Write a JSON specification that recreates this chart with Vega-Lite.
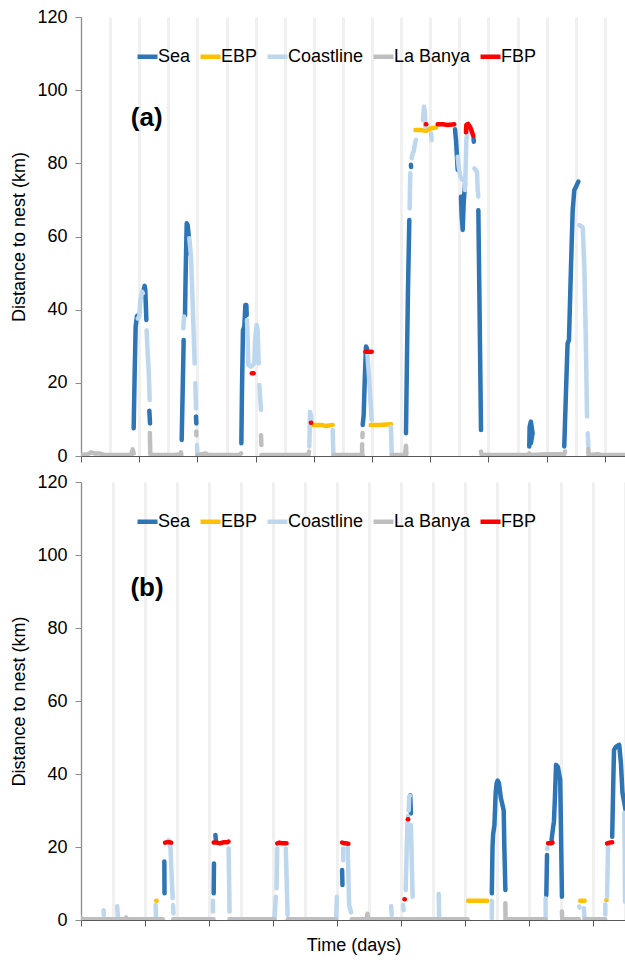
{
  "$schema": "https://vega.github.io/schema/vega-lite/v6.json",
  "padding": {"left": 10, "top": 8, "right": 0, "bottom": 0},
  "background": "white",
  "config": {
    "view": {"stroke": null},
    "font": "Liberation Sans",
    "axis": {
      "labelFont": "Liberation Sans", "titleFont": "Liberation Sans",
      "labelFontSize": 18, "titleFontSize": 18, "titleFontWeight": "normal",
      "labelColor": "#000000", "titleColor": "#000000"
    },
    "legend": {"labelFont": "Liberation Sans", "labelFontSize": 18, "labelColor": "#000000"}
  },
  "datasets": {
    "pts": [
      {"p":"a","c":"Sea","s":"aS1","t":0.905,"d":7.6},{"p":"a","c":"Sea","s":"aS1","t":0.922,"d":22.6},{"p":"a","c":"Sea","s":"aS1","t":0.939,"d":35.4},{"p":"a","c":"Sea","s":"aS1","t":0.962,"d":38.3},{"p":"a","c":"Sea","s":"aS1","t":0.985,"d":38.5},
      {"p":"a","c":"Sea","s":"aS2","t":1.077,"d":45.4},{"p":"a","c":"Sea","s":"aS2","t":1.094,"d":46.5},{"p":"a","c":"Sea","s":"aS2","t":1.105,"d":45.4},{"p":"a","c":"Sea","s":"aS2","t":1.123,"d":37.2},
      {"p":"a","c":"Sea","s":"aS3","t":1.174,"d":12.4},{"p":"a","c":"Sea","s":"aS3","t":1.186,"d":8.9},
      {"p":"a","c":"Sea","s":"aS4","t":1.73,"d":4.4},{"p":"a","c":"Sea","s":"aS4","t":1.747,"d":18},{"p":"a","c":"Sea","s":"aS4","t":1.764,"d":31.7},
      {"p":"a","c":"Sea","s":"aS5","t":1.787,"d":38.5},{"p":"a","c":"Sea","s":"aS5","t":1.798,"d":49.9},{"p":"a","c":"Sea","s":"aS5","t":1.816,"d":63.6},{"p":"a","c":"Sea","s":"aS5","t":1.833,"d":63.1},{"p":"a","c":"Sea","s":"aS5","t":1.85,"d":60.4},{"p":"a","c":"Sea","s":"aS5","t":1.861,"d":55.4},
      {"p":"a","c":"Sea","s":"aS6","t":1.976,"d":10.8},{"p":"a","c":"Sea","s":"aS6","t":1.982,"d":8.9},
      {"p":"a","c":"Sea","s":"aS7","t":2.755,"d":3.5},{"p":"a","c":"Sea","s":"aS7","t":2.766,"d":18},{"p":"a","c":"Sea","s":"aS7","t":2.783,"d":34.4},{"p":"a","c":"Sea","s":"aS7","t":2.806,"d":35.4},{"p":"a","c":"Sea","s":"aS7","t":2.824,"d":41.3},{"p":"a","c":"Sea","s":"aS7","t":2.841,"d":41.3},{"p":"a","c":"Sea","s":"aS7","t":2.847,"d":38.5},
      {"p":"a","c":"Sea","s":"aS8","t":4.84,"d":8.5},{"p":"a","c":"Sea","s":"aS8","t":4.857,"d":11.2},{"p":"a","c":"Sea","s":"aS8","t":4.875,"d":20.8},{"p":"a","c":"Sea","s":"aS8","t":4.897,"d":29.9},{"p":"a","c":"Sea","s":"aS8","t":4.914,"d":29.4},
      {"p":"a","c":"Sea","s":"aS9","t":5.584,"d":6.2},{"p":"a","c":"Sea","s":"aS9","t":5.601,"d":27.2},{"p":"a","c":"Sea","s":"aS9","t":5.618,"d":45.4},{"p":"a","c":"Sea","s":"aS9","t":5.641,"d":64.5},
      {"p":"a","c":"Sea","s":"aS10","t":5.668,"d":79.6},{"p":"a","c":"Sea","s":"aS10","t":5.672,"d":79.0},
      {"p":"a","c":"Sea","s":"aS11","t":6.426,"d":89.3},{"p":"a","c":"Sea","s":"aS11","t":6.443,"d":86.4},{"p":"a","c":"Sea","s":"aS11","t":6.46,"d":81.8},{"p":"a","c":"Sea","s":"aS11","t":6.472,"d":78.2},
      {"p":"a","c":"Sea","s":"aS12","t":6.529,"d":70.9},{"p":"a","c":"Sea","s":"aS12","t":6.541,"d":65.4},{"p":"a","c":"Sea","s":"aS12","t":6.558,"d":61.8},{"p":"a","c":"Sea","s":"aS12","t":6.575,"d":69.1},{"p":"a","c":"Sea","s":"aS12","t":6.598,"d":74.5},
      {"p":"a","c":"Sea","s":"aS13","t":6.745,"d":86.8},{"p":"a","c":"Sea","s":"aS13","t":6.749,"d":85.9},
      {"p":"a","c":"Sea","s":"aS14","t":6.827,"d":67.2},{"p":"a","c":"Sea","s":"aS14","t":6.844,"d":45.4},{"p":"a","c":"Sea","s":"aS14","t":6.861,"d":22.6},{"p":"a","c":"Sea","s":"aS14","t":6.873,"d":7.1},
      {"p":"a","c":"Sea","s":"aS15","t":7.702,"d":2.6},{"p":"a","c":"Sea","s":"aS15","t":7.708,"d":8.0},{"p":"a","c":"Sea","s":"aS15","t":7.73,"d":9.4},{"p":"a","c":"Sea","s":"aS15","t":7.759,"d":6.2},{"p":"a","c":"Sea","s":"aS15","t":7.73,"d":3.5},{"p":"a","c":"Sea","s":"aS15","t":7.72,"d":5.3},
      {"p":"a","c":"Sea","s":"aS16","t":8.303,"d":2.6},{"p":"a","c":"Sea","s":"aS16","t":8.332,"d":17.1},{"p":"a","c":"Sea","s":"aS16","t":8.36,"d":30.8},{"p":"a","c":"Sea","s":"aS16","t":8.384,"d":31.7},{"p":"a","c":"Sea","s":"aS16","t":8.419,"d":51.8},{"p":"a","c":"Sea","s":"aS16","t":8.448,"d":67.2},{"p":"a","c":"Sea","s":"aS16","t":8.476,"d":72.7},{"p":"a","c":"Sea","s":"aS16","t":8.505,"d":73.6},{"p":"a","c":"Sea","s":"aS16","t":8.545,"d":75},

      {"p":"a","c":"EBP","s":"aE1","t":3.98,"d":8.5},{"p":"a","c":"EBP","s":"aE1","t":4.123,"d":8.5},{"p":"a","c":"EBP","s":"aE1","t":4.209,"d":8.2},{"p":"a","c":"EBP","s":"aE1","t":4.325,"d":8.5},
      {"p":"a","c":"EBP","s":"aE2","t":4.977,"d":8.5},{"p":"a","c":"EBP","s":"aE2","t":5.12,"d":8.5},{"p":"a","c":"EBP","s":"aE2","t":5.326,"d":8.7},
      {"p":"a","c":"EBP","s":"aE3","t":5.745,"d":89.1},{"p":"a","c":"EBP","s":"aE3","t":5.842,"d":89.1},{"p":"a","c":"EBP","s":"aE3","t":5.928,"d":88.9},{"p":"a","c":"EBP","s":"aE3","t":6.014,"d":89.6},{"p":"a","c":"EBP","s":"aE3","t":6.1,"d":89.8},

      {"p":"a","c":"Coastline","s":"aC1","t":0.974,"d":37.6},{"p":"a","c":"Coastline","s":"aC1","t":1.002,"d":38.1},{"p":"a","c":"Coastline","s":"aC1","t":1.019,"d":42.6},{"p":"a","c":"Coastline","s":"aC1","t":1.048,"d":44.9},{"p":"a","c":"Coastline","s":"aC1","t":1.065,"d":44.5},
      {"p":"a","c":"Coastline","s":"aC2","t":1.128,"d":34.4},{"p":"a","c":"Coastline","s":"aC2","t":1.14,"d":29.9},{"p":"a","c":"Coastline","s":"aC2","t":1.163,"d":23.5},{"p":"a","c":"Coastline","s":"aC2","t":1.18,"d":15.3},
      {"p":"a","c":"Coastline","s":"aC3","t":1.758,"d":34.9},{"p":"a","c":"Coastline","s":"aC3","t":1.77,"d":38.1},
      {"p":"a","c":"Coastline","s":"aC4","t":1.861,"d":59.5},{"p":"a","c":"Coastline","s":"aC4","t":1.89,"d":54.5},{"p":"a","c":"Coastline","s":"aC4","t":1.907,"d":47.2},{"p":"a","c":"Coastline","s":"aC4","t":1.93,"d":36.3},{"p":"a","c":"Coastline","s":"aC4","t":1.953,"d":25.3},
      {"p":"a","c":"Coastline","s":"aC5","t":1.964,"d":19.9},{"p":"a","c":"Coastline","s":"aC5","t":1.976,"d":13},
      {"p":"a","c":"Coastline","s":"aC6","t":1.993,"d":3},{"p":"a","c":"Coastline","s":"aC6","t":1.999,"d":0.3},
      {"p":"a","c":"Coastline","s":"aC7","t":2.852,"d":37.2},{"p":"a","c":"Coastline","s":"aC7","t":2.864,"d":31.7},{"p":"a","c":"Coastline","s":"aC7","t":2.875,"d":24.9},{"p":"a","c":"Coastline","s":"aC7","t":2.921,"d":24.4},{"p":"a","c":"Coastline","s":"aC7","t":2.978,"d":25.3},{"p":"a","c":"Coastline","s":"aC7","t":2.99,"d":31.7},{"p":"a","c":"Coastline","s":"aC7","t":3.018,"d":35.8},{"p":"a","c":"Coastline","s":"aC7","t":3.035,"d":34.4},{"p":"a","c":"Coastline","s":"aC7","t":3.053,"d":25.3},
      {"p":"a","c":"Coastline","s":"aC8","t":3.064,"d":19.4},{"p":"a","c":"Coastline","s":"aC8","t":3.081,"d":15.3},{"p":"a","c":"Coastline","s":"aC8","t":3.093,"d":12.6},
      {"p":"a","c":"Coastline","s":"aC9","t":3.923,"d":2.6},{"p":"a","c":"Coastline","s":"aC9","t":3.929,"d":7.1},{"p":"a","c":"Coastline","s":"aC9","t":3.935,"d":12.1},{"p":"a","c":"Coastline","s":"aC9","t":3.952,"d":10.8},{"p":"a","c":"Coastline","s":"aC9","t":3.96,"d":9.4},
      {"p":"a","c":"Coastline","s":"aC10","t":4.325,"d":7.1},{"p":"a","c":"Coastline","s":"aC10","t":4.33,"d":3.5},{"p":"a","c":"Coastline","s":"aC10","t":4.336,"d":0.7},
      {"p":"a","c":"Coastline","s":"aC11","t":4.92,"d":28.1},{"p":"a","c":"Coastline","s":"aC11","t":4.948,"d":21.7},{"p":"a","c":"Coastline","s":"aC11","t":4.977,"d":14.4},{"p":"a","c":"Coastline","s":"aC11","t":4.994,"d":9.8},
      {"p":"a","c":"Coastline","s":"aC12","t":5.326,"d":8.0},{"p":"a","c":"Coastline","s":"aC12","t":5.332,"d":4.4},{"p":"a","c":"Coastline","s":"aC12","t":5.338,"d":0.7},
      {"p":"a","c":"Coastline","s":"aC13","t":5.647,"d":67.7},{"p":"a","c":"Coastline","s":"aC13","t":5.652,"d":72.7},{"p":"a","c":"Coastline","s":"aC13","t":5.658,"d":77.3},
      {"p":"a","c":"Coastline","s":"aC14","t":5.681,"d":81.4},{"p":"a","c":"Coastline","s":"aC14","t":5.698,"d":82.7},{"p":"a","c":"Coastline","s":"aC14","t":5.716,"d":83.2},{"p":"a","c":"Coastline","s":"aC14","t":5.739,"d":85.5},{"p":"a","c":"Coastline","s":"aC14","t":5.756,"d":86.4},
      {"p":"a","c":"Coastline","s":"aC15","t":5.876,"d":91.8},{"p":"a","c":"Coastline","s":"aC15","t":5.893,"d":95.5},{"p":"a","c":"Coastline","s":"aC15","t":5.91,"d":93.7},{"p":"a","c":"Coastline","s":"aC15","t":5.916,"d":90},
      {"p":"a","c":"Coastline","s":"aC16","t":6.014,"d":88.2},{"p":"a","c":"Coastline","s":"aC16","t":6.025,"d":86.4},
      {"p":"a","c":"Coastline","s":"aC17","t":6.472,"d":81.8},{"p":"a","c":"Coastline","s":"aC17","t":6.489,"d":79.1},{"p":"a","c":"Coastline","s":"aC17","t":6.518,"d":76.4},{"p":"a","c":"Coastline","s":"aC17","t":6.558,"d":75.4},
      {"p":"a","c":"Coastline","s":"aC18","t":6.598,"d":72.7},{"p":"a","c":"Coastline","s":"aC18","t":6.621,"d":86.4},{"p":"a","c":"Coastline","s":"aC18","t":6.644,"d":88.7},
      {"p":"a","c":"Coastline","s":"aC19","t":6.758,"d":78.6},{"p":"a","c":"Coastline","s":"aC19","t":6.804,"d":77.7},{"p":"a","c":"Coastline","s":"aC19","t":6.816,"d":72.7},{"p":"a","c":"Coastline","s":"aC19","t":6.827,"d":70.9},
      {"p":"a","c":"Coastline","s":"aC20","t":8.563,"d":63.1},{"p":"a","c":"Coastline","s":"aC20","t":8.62,"d":62.5},{"p":"a","c":"Coastline","s":"aC20","t":8.648,"d":51.8},{"p":"a","c":"Coastline","s":"aC20","t":8.677,"d":29},{"p":"a","c":"Coastline","s":"aC20","t":8.694,"d":10.8},
      {"p":"a","c":"Coastline","s":"aC21","t":8.706,"d":6.2},{"p":"a","c":"Coastline","s":"aC21","t":8.717,"d":2.6},

      {"p":"a","c":"La Banya","s":"aL1","t":0,"d":0.3},{"p":"a","c":"La Banya","s":"aL1","t":0.115,"d":0.45},{"p":"a","c":"La Banya","s":"aL1","t":0.172,"d":1.0},{"p":"a","c":"La Banya","s":"aL1","t":0.23,"d":0.7},{"p":"a","c":"La Banya","s":"aL1","t":0.315,"d":0.7},{"p":"a","c":"La Banya","s":"aL1","t":0.4,"d":0.3},{"p":"a","c":"La Banya","s":"aL1","t":0.86,"d":0.3},{"p":"a","c":"La Banya","s":"aL1","t":0.888,"d":1.8},{"p":"a","c":"La Banya","s":"aL1","t":0.905,"d":0.7},
      {"p":"a","c":"La Banya","s":"aL2","t":1.183,"d":6.3},{"p":"a","c":"La Banya","s":"aL2","t":1.19,"d":0.5},{"p":"a","c":"La Banya","s":"aL2","t":1.23,"d":0.3},{"p":"a","c":"La Banya","s":"aL2","t":1.6,"d":0.3},{"p":"a","c":"La Banya","s":"aL2","t":1.71,"d":0.4},{"p":"a","c":"La Banya","s":"aL2","t":1.718,"d":1.0},{"p":"a","c":"La Banya","s":"aL2","t":1.725,"d":0.4},
      {"p":"a","c":"La Banya","s":"aL3","t":1.982,"d":6.7},{"p":"a","c":"La Banya","s":"aL3","t":1.982,"d":5.7},
      {"p":"a","c":"La Banya","s":"aL4","t":2.0,"d":0.3},{"p":"a","c":"La Banya","s":"aL4","t":2.148,"d":0.7},{"p":"a","c":"La Banya","s":"aL4","t":2.18,"d":0.3},{"p":"a","c":"La Banya","s":"aL4","t":2.72,"d":0.3},{"p":"a","c":"La Banya","s":"aL4","t":2.75,"d":0.7},
      {"p":"a","c":"La Banya","s":"aL5","t":3.093,"d":5.7},{"p":"a","c":"La Banya","s":"aL5","t":3.099,"d":3},
      {"p":"a","c":"La Banya","s":"aL6","t":3.099,"d":0.3},{"p":"a","c":"La Banya","s":"aL6","t":3.436,"d":0.3},{"p":"a","c":"La Banya","s":"aL6","t":3.91,"d":0.3},{"p":"a","c":"La Banya","s":"aL6","t":3.918,"d":1.2},
      {"p":"a","c":"La Banya","s":"aL7","t":4.336,"d":0.3},{"p":"a","c":"La Banya","s":"aL7","t":4.84,"d":0.3},
      {"p":"a","c":"La Banya","s":"aL8","t":4.838,"d":6.3},{"p":"a","c":"La Banya","s":"aL8","t":4.836,"d":5.2},
      {"p":"a","c":"La Banya","s":"aL9","t":4.83,"d":3.2},{"p":"a","c":"La Banya","s":"aL9","t":4.83,"d":1.0},
      {"p":"a","c":"La Banya","s":"aL10","t":5.338,"d":0.3},{"p":"a","c":"La Banya","s":"aL10","t":5.567,"d":0.3},{"p":"a","c":"La Banya","s":"aL10","t":5.584,"d":2.8},{"p":"a","c":"La Banya","s":"aL10","t":5.59,"d":0.5},
      {"p":"a","c":"La Banya","s":"aL11","t":6.873,"d":1.2},{"p":"a","c":"La Banya","s":"aL11","t":6.884,"d":0.3},{"p":"a","c":"La Banya","s":"aL11","t":7.675,"d":0.3},{"p":"a","c":"La Banya","s":"aL11","t":7.702,"d":0.7},
      {"p":"a","c":"La Banya","s":"aL12","t":7.73,"d":0.3},{"p":"a","c":"La Banya","s":"aL12","t":8.016,"d":0.5},{"p":"a","c":"La Banya","s":"aL12","t":8.303,"d":0.5},{"p":"a","c":"La Banya","s":"aL12","t":8.316,"d":1.2},
      {"p":"a","c":"La Banya","s":"aL13","t":8.717,"d":1.9},{"p":"a","c":"La Banya","s":"aL13","t":8.72,"d":0.3},{"p":"a","c":"La Banya","s":"aL13","t":8.877,"d":0.5},{"p":"a","c":"La Banya","s":"aL13","t":8.934,"d":0.3},{"p":"a","c":"La Banya","s":"aL13","t":9.4,"d":0.3},

      {"p":"a","c":"FBP","s":"aF1","t":2.936,"d":22.6},{"p":"a","c":"FBP","s":"aF1","t":2.966,"d":22.6},
      {"p":"a","c":"FBP","s":"aF2","t":3.95,"d":9.1},{"p":"a","c":"FBP","s":"aF2","t":3.956,"d":9.1},
      {"p":"a","c":"FBP","s":"aF3","t":4.885,"d":28.5},{"p":"a","c":"FBP","s":"aF3","t":4.94,"d":28.5},{"p":"a","c":"FBP","s":"aF3","t":4.995,"d":28.5},
      {"p":"a","c":"FBP","s":"aF4","t":5.926,"d":90.7},{"p":"a","c":"FBP","s":"aF4","t":5.932,"d":90.7},
      {"p":"a","c":"FBP","s":"aF5","t":6.128,"d":90.7},{"p":"a","c":"FBP","s":"aF5","t":6.214,"d":90.7},{"p":"a","c":"FBP","s":"aF5","t":6.3,"d":90.5},{"p":"a","c":"FBP","s":"aF5","t":6.414,"d":90.7},
      {"p":"a","c":"FBP","s":"aF6","t":6.615,"d":88.5},{"p":"a","c":"FBP","s":"aF6","t":6.621,"d":90.5},{"p":"a","c":"FBP","s":"aF6","t":6.65,"d":90.8},{"p":"a","c":"FBP","s":"aF6","t":6.69,"d":89.8},{"p":"a","c":"FBP","s":"aF6","t":6.72,"d":88.5},{"p":"a","c":"FBP","s":"aF6","t":6.74,"d":87.5},

      {"p":"b","c":"Sea","s":"bS1","t":1.302,"d":16.0},{"p":"b","c":"Sea","s":"bS1","t":1.305,"d":7.3},
      {"p":"b","c":"Sea","s":"bS2","t":2.078,"d":15.5},{"p":"b","c":"Sea","s":"bS2","t":2.073,"d":7.3},
      {"p":"b","c":"Sea","s":"bS3","t":2.1,"d":23.3},{"p":"b","c":"Sea","s":"bS3","t":2.11,"d":21.5},
      {"p":"b","c":"Sea","s":"bS4","t":4.08,"d":13.7},{"p":"b","c":"Sea","s":"bS4","t":4.085,"d":9.6},
      {"p":"b","c":"Sea","s":"bS5","t":5.144,"d":34.2},{"p":"b","c":"Sea","s":"bS5","t":5.155,"d":29.2},
      {"p":"b","c":"Sea","s":"bS6","t":6.419,"d":7.3},{"p":"b","c":"Sea","s":"bS6","t":6.43,"d":20},{"p":"b","c":"Sea","s":"bS6","t":6.44,"d":23.5},{"p":"b","c":"Sea","s":"bS6","t":6.46,"d":26},{"p":"b","c":"Sea","s":"bS6","t":6.48,"d":35},{"p":"b","c":"Sea","s":"bS6","t":6.495,"d":37.5},{"p":"b","c":"Sea","s":"bS6","t":6.51,"d":38.2},{"p":"b","c":"Sea","s":"bS6","t":6.53,"d":37.5},{"p":"b","c":"Sea","s":"bS6","t":6.56,"d":33.5},{"p":"b","c":"Sea","s":"bS6","t":6.58,"d":32},{"p":"b","c":"Sea","s":"bS6","t":6.605,"d":30},{"p":"b","c":"Sea","s":"bS6","t":6.615,"d":20},{"p":"b","c":"Sea","s":"bS6","t":6.631,"d":8.2},
      {"p":"b","c":"Sea","s":"bS7","t":7.271,"d":6.8},{"p":"b","c":"Sea","s":"bS7","t":7.282,"d":17.8},
      {"p":"b","c":"Sea","s":"bS8","t":7.352,"d":21.9},{"p":"b","c":"Sea","s":"bS8","t":7.379,"d":25.6},{"p":"b","c":"Sea","s":"bS8","t":7.39,"d":27},{"p":"b","c":"Sea","s":"bS8","t":7.406,"d":33.8},{"p":"b","c":"Sea","s":"bS8","t":7.423,"d":42.5},{"p":"b","c":"Sea","s":"bS8","t":7.45,"d":42.0},{"p":"b","c":"Sea","s":"bS8","t":7.488,"d":38.5},{"p":"b","c":"Sea","s":"bS8","t":7.5,"d":25},{"p":"b","c":"Sea","s":"bS8","t":7.515,"d":6.4},
      {"p":"b","c":"Sea","s":"bS9","t":8.3,"d":22.8},{"p":"b","c":"Sea","s":"bS9","t":8.32,"d":40},{"p":"b","c":"Sea","s":"bS9","t":8.329,"d":46.6},{"p":"b","c":"Sea","s":"bS9","t":8.36,"d":47.5},{"p":"b","c":"Sea","s":"bS9","t":8.41,"d":48.0},{"p":"b","c":"Sea","s":"bS9","t":8.437,"d":42.9},{"p":"b","c":"Sea","s":"bS9","t":8.46,"d":35},{"p":"b","c":"Sea","s":"bS9","t":8.49,"d":32},{"p":"b","c":"Sea","s":"bS9","t":8.53,"d":28},

      {"p":"b","c":"EBP","s":"bE1","t":1.175,"d":5.3},{"p":"b","c":"EBP","s":"bE1","t":1.18,"d":5.3},
      {"p":"b","c":"EBP","s":"bE2","t":6.05,"d":5.3},{"p":"b","c":"EBP","s":"bE2","t":6.2,"d":5.3},{"p":"b","c":"EBP","s":"bE2","t":6.348,"d":5.3},
      {"p":"b","c":"EBP","s":"bE3","t":7.8,"d":5.3},{"p":"b","c":"EBP","s":"bE3","t":7.87,"d":5.3},
      {"p":"b","c":"EBP","s":"bE4","t":8.208,"d":5.5},{"p":"b","c":"EBP","s":"bE4","t":8.213,"d":5.5},

      {"p":"b","c":"Coastline","s":"bC1","t":0.353,"d":2.7},{"p":"b","c":"Coastline","s":"bC1","t":0.356,"d":1.4},
      {"p":"b","c":"Coastline","s":"bC2","t":0.565,"d":3.8},{"p":"b","c":"Coastline","s":"bC2","t":0.575,"d":1.1},
      {"p":"b","c":"Coastline","s":"bC3","t":1.167,"d":4.1},{"p":"b","c":"Coastline","s":"bC3","t":1.172,"d":0.5},
      {"p":"b","c":"Coastline","s":"bC4","t":1.367,"d":21.9},{"p":"b","c":"Coastline","s":"bC4","t":1.39,"d":21.5},{"p":"b","c":"Coastline","s":"bC4","t":1.4,"d":19.0},{"p":"b","c":"Coastline","s":"bC4","t":1.432,"d":6.0},
      {"p":"b","c":"Coastline","s":"bC5","t":1.438,"d":4.1},{"p":"b","c":"Coastline","s":"bC5","t":1.445,"d":1.8},
      {"p":"b","c":"Coastline","s":"bC6","t":2.062,"d":5.3},{"p":"b","c":"Coastline","s":"bC6","t":2.062,"d":2.3},
      {"p":"b","c":"Coastline","s":"bC7","t":2.306,"d":19.6},{"p":"b","c":"Coastline","s":"bC7","t":2.322,"d":2.3},
      {"p":"b","c":"Coastline","s":"bC8","t":3.022,"d":0.2},{"p":"b","c":"Coastline","s":"bC8","t":3.044,"d":6.4},
      {"p":"b","c":"Coastline","s":"bC9","t":3.055,"d":8.7},{"p":"b","c":"Coastline","s":"bC9","t":3.066,"d":19.6},
      {"p":"b","c":"Coastline","s":"bC10","t":3.2,"d":19.6},{"p":"b","c":"Coastline","s":"bC10","t":3.228,"d":1.4},
      {"p":"b","c":"Coastline","s":"bC11","t":3.988,"d":0.3},{"p":"b","c":"Coastline","s":"bC11","t":3.999,"d":6.4},
      {"p":"b","c":"Coastline","s":"bC12","t":4.097,"d":19.6},{"p":"b","c":"Coastline","s":"bC12","t":4.097,"d":16.4},
      {"p":"b","c":"Coastline","s":"bC13","t":4.167,"d":19.9},{"p":"b","c":"Coastline","s":"bC13","t":4.19,"d":4.1},{"p":"b","c":"Coastline","s":"bC13","t":4.221,"d":2.1},
      {"p":"b","c":"Coastline","s":"bC14","t":4.845,"d":3.8},{"p":"b","c":"Coastline","s":"bC14","t":4.856,"d":1.4},
      {"p":"b","c":"Coastline","s":"bC15","t":5.035,"d":4.1},{"p":"b","c":"Coastline","s":"bC15","t":5.04,"d":2.7},
      {"p":"b","c":"Coastline","s":"bC16","t":5.073,"d":8.2},{"p":"b","c":"Coastline","s":"bC16","t":5.09,"d":19.6},{"p":"b","c":"Coastline","s":"bC16","t":5.1,"d":26.0},{"p":"b","c":"Coastline","s":"bC16","t":5.11,"d":28.5},
      {"p":"b","c":"Coastline","s":"bC17","t":5.12,"d":30},{"p":"b","c":"Coastline","s":"bC17","t":5.128,"d":33.8},{"p":"b","c":"Coastline","s":"bC17","t":5.14,"d":34.0},
      {"p":"b","c":"Coastline","s":"bC18","t":5.155,"d":26.0},{"p":"b","c":"Coastline","s":"bC18","t":5.17,"d":15},{"p":"b","c":"Coastline","s":"bC18","t":5.182,"d":6.4},
      {"p":"b","c":"Coastline","s":"bC19","t":5.589,"d":7.1},{"p":"b","c":"Coastline","s":"bC19","t":5.597,"d":0.5},
      {"p":"b","c":"Coastline","s":"bC20","t":6.419,"d":5.3},{"p":"b","c":"Coastline","s":"bC20","t":6.419,"d":0.5},
      {"p":"b","c":"Coastline","s":"bC21","t":7.26,"d":5.9},{"p":"b","c":"Coastline","s":"bC21","t":7.26,"d":0.5},
      {"p":"b","c":"Coastline","s":"bC22","t":7.285,"d":19.5},{"p":"b","c":"Coastline","s":"bC22","t":7.29,"d":19.8},
      {"p":"b","c":"Coastline","s":"bC23","t":7.786,"d":3.7},{"p":"b","c":"Coastline","s":"bC23","t":7.79,"d":3.4},
      {"p":"b","c":"Coastline","s":"bC24","t":7.857,"d":3.2},{"p":"b","c":"Coastline","s":"bC24","t":7.868,"d":0.3},
      {"p":"b","c":"Coastline","s":"bC25","t":8.193,"d":4.3},{"p":"b","c":"Coastline","s":"bC25","t":8.193,"d":1.5},
      {"p":"b","c":"Coastline","s":"bC26","t":8.22,"d":6.4},{"p":"b","c":"Coastline","s":"bC26","t":8.236,"d":20.5},
      {"p":"b","c":"Coastline","s":"bC27","t":8.49,"d":29.3},{"p":"b","c":"Coastline","s":"bC27","t":8.495,"d":20},{"p":"b","c":"Coastline","s":"bC27","t":8.5,"d":5},

      {"p":"b","c":"La Banya","s":"bL1","t":0,"d":0.6},{"p":"b","c":"La Banya","s":"bL1","t":0.027,"d":0.2},{"p":"b","c":"La Banya","s":"bL1","t":0.69,"d":0.2},{"p":"b","c":"La Banya","s":"bL1","t":0.705,"d":0.7},{"p":"b","c":"La Banya","s":"bL1","t":0.72,"d":0.2},{"p":"b","c":"La Banya","s":"bL1","t":1.28,"d":0.2},
      {"p":"b","c":"La Banya","s":"bL2","t":1.44,"d":0.2},{"p":"b","c":"La Banya","s":"bL2","t":2.07,"d":0.2},
      {"p":"b","c":"La Banya","s":"bL3","t":2.32,"d":0.2},{"p":"b","c":"La Banya","s":"bL3","t":3.02,"d":0.2},
      {"p":"b","c":"La Banya","s":"bL4","t":3.23,"d":0.2},{"p":"b","c":"La Banya","s":"bL4","t":3.98,"d":0.2},
      {"p":"b","c":"La Banya","s":"bL5","t":4.23,"d":0.2},{"p":"b","c":"La Banya","s":"bL5","t":4.46,"d":0.2},{"p":"b","c":"La Banya","s":"bL5","t":4.476,"d":1.7},{"p":"b","c":"La Banya","s":"bL5","t":4.49,"d":0.2},{"p":"b","c":"La Banya","s":"bL5","t":6.04,"d":0.2},
      {"p":"b","c":"La Banya","s":"bL6","t":6.631,"d":4.6},{"p":"b","c":"La Banya","s":"bL6","t":6.633,"d":0.2},{"p":"b","c":"La Banya","s":"bL6","t":7.26,"d":0.2},
      {"p":"b","c":"La Banya","s":"bL7","t":7.515,"d":2.3},{"p":"b","c":"La Banya","s":"bL7","t":7.52,"d":0.2},{"p":"b","c":"La Banya","s":"bL7","t":7.78,"d":0.2},
      {"p":"b","c":"La Banya","s":"bL8","t":7.87,"d":0.2},{"p":"b","c":"La Banya","s":"bL8","t":8.19,"d":0.2},

      {"p":"b","c":"FBP","s":"bF1","t":1.313,"d":21.2},{"p":"b","c":"FBP","s":"bF1","t":1.35,"d":21.3},{"p":"b","c":"FBP","s":"bF1","t":1.38,"d":21.3},{"p":"b","c":"FBP","s":"bF1","t":1.41,"d":21.2},
      {"p":"b","c":"FBP","s":"bF2","t":2.073,"d":21.2},{"p":"b","c":"FBP","s":"bF2","t":2.12,"d":21.2},{"p":"b","c":"FBP","s":"bF2","t":2.17,"d":21.0},{"p":"b","c":"FBP","s":"bF2","t":2.22,"d":21.3},{"p":"b","c":"FBP","s":"bF2","t":2.29,"d":21.3},{"p":"b","c":"FBP","s":"bF2","t":2.306,"d":21.5},
      {"p":"b","c":"FBP","s":"bF3","t":3.066,"d":21.0},{"p":"b","c":"FBP","s":"bF3","t":3.1,"d":21.2},{"p":"b","c":"FBP","s":"bF3","t":3.15,"d":21.0},{"p":"b","c":"FBP","s":"bF3","t":3.212,"d":21.0},
      {"p":"b","c":"FBP","s":"bF4","t":4.08,"d":21.2},{"p":"b","c":"FBP","s":"bF4","t":4.13,"d":21.0},{"p":"b","c":"FBP","s":"bF4","t":4.178,"d":20.9},
      {"p":"b","c":"FBP","s":"bF5","t":5.055,"d":5.7},{"p":"b","c":"FBP","s":"bF5","t":5.06,"d":5.7},
      {"p":"b","c":"FBP","s":"bF6","t":5.108,"d":27.6},{"p":"b","c":"FBP","s":"bF6","t":5.113,"d":27.6},
      {"p":"b","c":"FBP","s":"bF7","t":7.298,"d":21.0},{"p":"b","c":"FBP","s":"bF7","t":7.34,"d":21.0},{"p":"b","c":"FBP","s":"bF7","t":7.368,"d":21.2},
      {"p":"b","c":"FBP","s":"bF8","t":8.22,"d":21.0},{"p":"b","c":"FBP","s":"bF8","t":8.26,"d":21.2},{"p":"b","c":"FBP","s":"bF8","t":8.3,"d":21.3}
    ],
    "labels": [
      {"p":"a","txt":"(a)","t":1.129,"d":92.3},
      {"p":"b","txt":"(b)","t":1.031,"d":91.0}
    ]
  },
  "spacing": 8,
  "resolve": {"scale": {"color": "independent", "x": "independent", "y": "independent"}, "legend": {"color": "independent"}},
  "vconcat": [
    {
      "width": 545, "height": 439,
      "layer": [
        {
          "data": {"name": "pts"},
          "transform": [{"filter": "datum.p === 'a'"}],
          "mark": {"type": "line", "strokeWidth": 4.5, "strokeCap": "round", "strokeJoin": "round", "clip": true},
          "encoding": {
            "x": {"field": "t", "type": "quantitative",
              "scale": {"domain": [0, 9.364], "nice": false, "zero": false},
              "axis": {"values": [0,0.5,1,1.5,2,2.5,3,3.5,4,4.5,5,5.5,6,6.5,7,7.5,8,8.5,9], "tickCount": 100,
                "labels": false, "title": null, "domainColor": "#595959", "domainWidth": 1.2, "tickColor": "#595959",
                "grid": true, "gridWidth": 3, "gridColor": "#f0f0f0",
                "gridOpacity": {"condition": {"test": "datum.value === 0", "value": 0}, "value": 1},
                "tickSize": {"condition": {"test": "datum.value % 1 !== 0", "value": 0}, "value": 6}}},
            "y": {"field": "d", "type": "quantitative",
              "scale": {"domain": [0, 120], "nice": false},
              "axis": {"values": [0,20,40,60,80,100,120], "title": "Distance to nest (km)", "grid": false,
                "tickSize": 6, "labelPadding": 8, "titlePadding": 8, "domainColor": "#8c8c8c", "tickColor": "#8c8c8c", "domainWidth": 1.3}},
            "color": {"field": "c", "type": "nominal",
              "scale": {"domain": ["Sea", "EBP", "Coastline", "La Banya", "FBP"], "range": ["#2E75B6", "#FFC000", "#BDD7EE", "#BFBFBF", "#FF0000"]},
              "legend": {"orient": "none", "legendX": 54, "legendY": 27, "direction": "horizontal", "title": null,
                "symbolType": "stroke", "symbolSize": 400, "symbolStrokeWidth": 4.5, "labelOffset": -2, "columnPadding": 0, "symbolOffset": 0}},
            "detail": {"field": "s"},
            "order": {"value": null}
          }
        },
        {
          "data": {"name": "labels"},
          "transform": [{"filter": "datum.p === 'a'"}],
          "mark": {"type": "text", "fontSize": 26, "fontWeight": "bold", "font": "Liberation Sans", "align": "center", "baseline": "middle", "color": "#000000"},
          "encoding": {
            "x": {"field": "t", "type": "quantitative"},
            "y": {"field": "d", "type": "quantitative"},
            "text": {"field": "txt"}
          }
        }
      ]
    },
    {
      "width": 545, "height": 438,
      "layer": [
        {
          "data": {"name": "pts"},
          "transform": [{"filter": "datum.p === 'b'"}],
          "mark": {"type": "line", "strokeWidth": 4.5, "strokeCap": "round", "strokeJoin": "round", "clip": true},
          "encoding": {
            "x": {"field": "t", "type": "quantitative",
              "scale": {"domain": [0, 8.516], "nice": false, "zero": false},
              "axis": {"values": [0,0.5,1,1.5,2,2.5,3,3.5,4,4.5,5,5.5,6,6.5,7,7.5,8,8.5], "tickCount": 100,
                "labels": false, "title": "Time (days)", "titlePadding": 10, "domainColor": "#595959", "domainWidth": 1.2, "tickColor": "#595959",
                "grid": true, "gridWidth": 3, "gridColor": "#f0f0f0",
                "gridOpacity": {"condition": {"test": "datum.value === 0", "value": 0}, "value": 1},
                "tickSize": {"condition": {"test": "datum.value % 1 !== 0", "value": 0}, "value": 6}}},
            "y": {"field": "d", "type": "quantitative",
              "scale": {"domain": [0, 120], "nice": false},
              "axis": {"values": [0,20,40,60,80,100,120], "title": "Distance to nest (km)", "grid": false,
                "tickSize": 6, "labelPadding": 8, "titlePadding": 8, "domainColor": "#8c8c8c", "tickColor": "#8c8c8c", "domainWidth": 1.3}},
            "color": {"field": "c", "type": "nominal",
              "scale": {"domain": ["Sea", "EBP", "Coastline", "La Banya", "FBP"], "range": ["#2E75B6", "#FFC000", "#BDD7EE", "#BFBFBF", "#FF0000"]},
              "legend": {"orient": "none", "legendX": 54, "legendY": 27, "direction": "horizontal", "title": null,
                "symbolType": "stroke", "symbolSize": 400, "symbolStrokeWidth": 4.5, "labelOffset": -2, "columnPadding": 0, "symbolOffset": 0}},
            "detail": {"field": "s"},
            "order": {"value": null}
          }
        },
        {
          "data": {"name": "labels"},
          "transform": [{"filter": "datum.p === 'b'"}],
          "mark": {"type": "text", "fontSize": 26, "fontWeight": "bold", "font": "Liberation Sans", "align": "center", "baseline": "middle", "color": "#000000"},
          "encoding": {
            "x": {"field": "t", "type": "quantitative"},
            "y": {"field": "d", "type": "quantitative"},
            "text": {"field": "txt"}
          }
        }
      ]
    }
  ]
}
